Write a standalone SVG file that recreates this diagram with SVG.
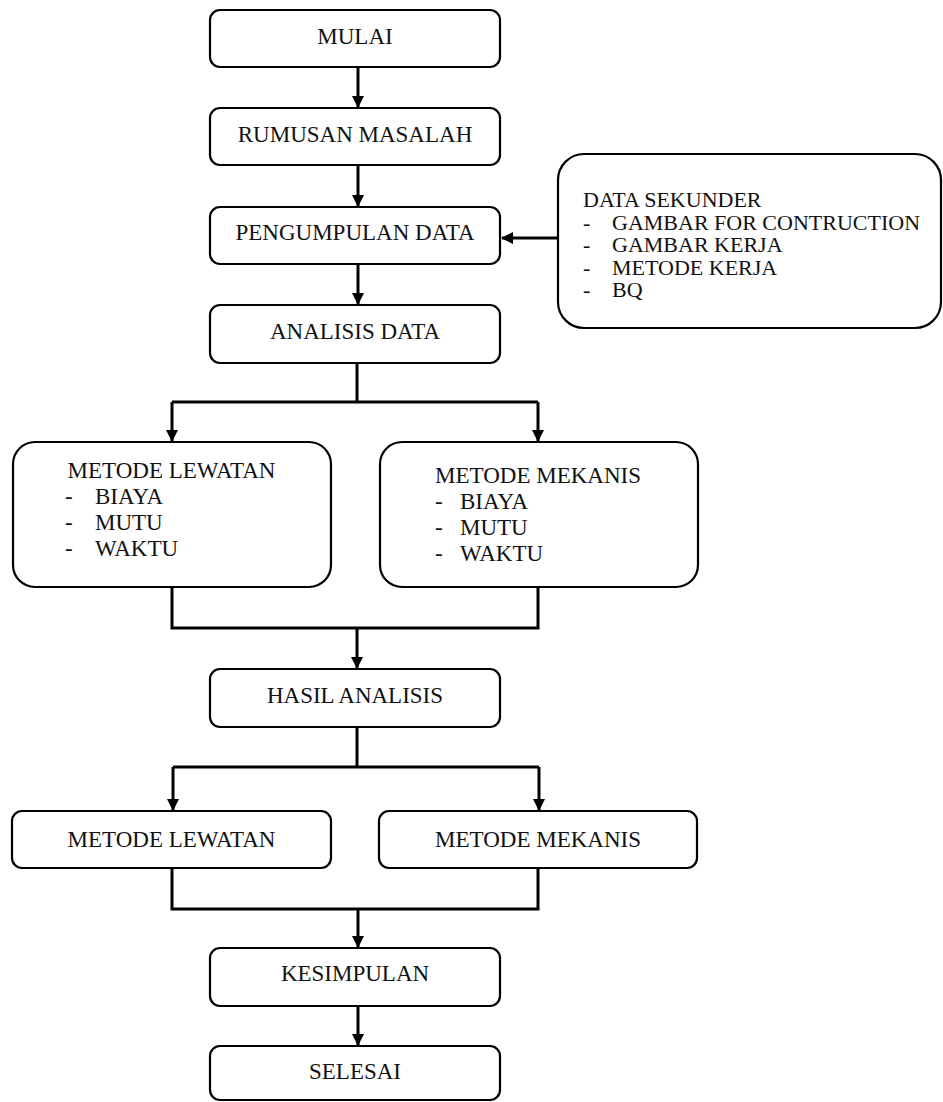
<svg xmlns="http://www.w3.org/2000/svg" width="943" height="1102" viewBox="0 0 943 1102">
<style>
.box{fill:#fff;stroke:#000;stroke-width:2.2}
.t{font-family:'Liberation Serif','Times New Roman',Tinos,'DejaVu Serif',serif;font-size:23px;fill:#111}
.s{font-size:22px}
.c{text-anchor:middle}
.ln{fill:none;stroke:#000;stroke-width:3}
</style>
<defs>
<marker id="ah" markerWidth="13" markerHeight="12" refX="11" refY="6" orient="auto" markerUnits="userSpaceOnUse">
<path d="M0,0 L12,6 L0,12 Z" fill="#000"/>
</marker>
</defs>
<rect width="943" height="1102" fill="#fff"/>
<g id="connectors">
<line class="ln" x1="358" y1="67" x2="358" y2="107" marker-end="url(#ah)"/>
<line class="ln" x1="358" y1="165" x2="358" y2="206" marker-end="url(#ah)"/>
<line class="ln" x1="558" y1="238" x2="502" y2="238" marker-end="url(#ah)"/>
<line class="ln" x1="358" y1="264" x2="358" y2="304" marker-end="url(#ah)"/>
<polyline class="ln" points="357,363 357,402"/>
<polyline class="ln" points="172,402 538,402"/>
<line class="ln" x1="172" y1="402" x2="172" y2="441" marker-end="url(#ah)"/>
<line class="ln" x1="538" y1="402" x2="538" y2="441" marker-end="url(#ah)"/>
<polyline class="ln" points="172,587 172,628 538,628 538,587"/>
<line class="ln" x1="357" y1="628" x2="357" y2="668" marker-end="url(#ah)"/>
<polyline class="ln" points="357,727 357,767"/>
<polyline class="ln" points="173,767 539,767"/>
<line class="ln" x1="173" y1="767" x2="173" y2="810" marker-end="url(#ah)"/>
<line class="ln" x1="539" y1="767" x2="539" y2="810" marker-end="url(#ah)"/>
<polyline class="ln" points="172,868 172,909 538,909 538,868"/>
<line class="ln" x1="358" y1="909" x2="358" y2="947" marker-end="url(#ah)"/>
<line class="ln" x1="358" y1="1006" x2="358" y2="1045" marker-end="url(#ah)"/>
</g>
<g id="mulai">
<rect class="box" x="210" y="10" width="290" height="57" rx="10"/>
<text class="t c" x="355" y="44">MULAI</text>
</g>
<g id="rumusan">
<rect class="box" x="210" y="108" width="290" height="57" rx="10"/>
<text class="t c" x="355" y="142">RUMUSAN MASALAH</text>
</g>
<g id="pengumpulan">
<rect class="box" x="210" y="207" width="290" height="57" rx="10"/>
<text class="t c" x="355" y="240">PENGUMPULAN DATA</text>
</g>
<g id="data-sekunder">
<rect class="box" x="558" y="154" width="383" height="174" rx="26"/>
<text class="t s" x="583" y="207">DATA SEKUNDER</text>
<text class="t s" x="583" y="229.5">-<tspan x="612">GAMBAR FOR CONTRUCTION</tspan></text>
<text class="t s" x="583" y="252">-<tspan x="612">GAMBAR KERJA</tspan></text>
<text class="t s" x="583" y="274.5">-<tspan x="612">METODE KERJA</tspan></text>
<text class="t s" x="583" y="297">-<tspan x="612">BQ</tspan></text>
</g>
<g id="analisis">
<rect class="box" x="210" y="305" width="290" height="58" rx="10"/>
<text class="t c" x="355" y="339">ANALISIS DATA</text>
</g>
<g id="metode-lewatan-1">
<rect class="box" x="13" y="442" width="318" height="145" rx="22"/>
<text class="t c" x="171.5" y="478">METODE LEWATAN</text>
<text class="t" x="65" y="504">-<tspan x="95">BIAYA</tspan></text>
<text class="t" x="65" y="530">-<tspan x="95">MUTU</tspan></text>
<text class="t" x="65" y="556">-<tspan x="95">WAKTU</tspan></text>
</g>
<g id="metode-mekanis-1">
<rect class="box" x="380" y="442" width="318" height="145" rx="22"/>
<text class="t c" x="538" y="483">METODE MEKANIS</text>
<text class="t" x="435" y="509">-<tspan x="460">BIAYA</tspan></text>
<text class="t" x="435" y="535">-<tspan x="460">MUTU</tspan></text>
<text class="t" x="435" y="561">-<tspan x="460">WAKTU</tspan></text>
</g>
<g id="hasil">
<rect class="box" x="210" y="669" width="290" height="58" rx="10"/>
<text class="t c" x="355" y="703">HASIL ANALISIS</text>
</g>
<g id="metode-lewatan-2">
<rect class="box" x="12" y="811" width="319" height="57" rx="10"/>
<text class="t c" x="171.5" y="847">METODE LEWATAN</text>
</g>
<g id="metode-mekanis-2">
<rect class="box" x="379" y="811" width="318" height="57" rx="10"/>
<text class="t c" x="538" y="847">METODE MEKANIS</text>
</g>
<g id="kesimpulan">
<rect class="box" x="210" y="948" width="290" height="58" rx="10"/>
<text class="t c" x="355" y="981">KESIMPULAN</text>
</g>
<g id="selesai">
<rect class="box" x="210" y="1046" width="290" height="54" rx="10"/>
<text class="t c" x="355" y="1079">SELESAI</text>
</g>
</svg>
